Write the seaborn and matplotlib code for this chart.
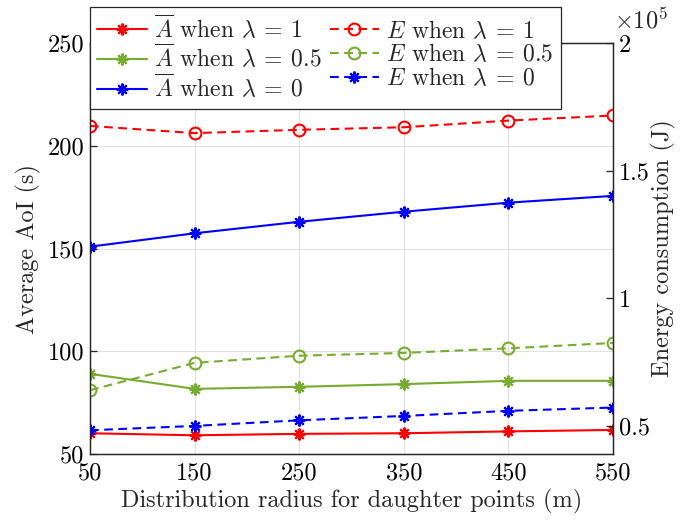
import numpy as np
import pandas as pd
import matplotlib
matplotlib.use("Agg")
import matplotlib.pyplot as plt
import seaborn as sns
from matplotlib.ticker import FuncFormatter, FixedLocator

# ---------------- data ----------------
radius = [50, 150, 250, 350, 450, 550]
aoi_lam1 = [60.1, 59.1, 59.8, 60.1, 61.0, 61.7]
aoi_lam05 = [89.0, 81.7, 82.7, 84.0, 85.6, 85.6]
aoi_lam0 = [150.9, 157.4, 163.0, 167.9, 172.3, 175.6]
energy_lam1 = [1.675e5, 1.647e5, 1.660e5, 1.670e5, 1.696e5, 1.716e5]
energy_lam05 = [0.640e5, 0.747e5, 0.775e5, 0.786e5, 0.804e5, 0.825e5]
energy_lam0 = [0.483e5, 0.500e5, 0.522e5, 0.539e5, 0.559e5, 0.572e5]
x_ticks = [50, 150, 250, 350, 450, 550]
aoi_ticks = [50, 100, 150, 200, 250]
energy_ticks = [0.5e5, 1.0e5, 1.5e5, 2.0e5]

labels_aoi = [r"$\overline{A}$ when $\lambda\:=\:1$",
              r"$\overline{A}$ when $\lambda\:=\:0.5$",
              r"$\overline{A}$ when $\lambda\:=\:0$"]
labels_e = [r"$E$ when $\lambda\:=\:1$",
            r"$E$ when $\lambda\:=\:0.5$",
            r"$E$ when $\lambda\:=\:0$"]

RED = (1.0, 0.0, 0.0)
GREEN = (0.467, 0.675, 0.188)
BLUE = (0.0, 0.0, 1.0)
AX_COLOR = (0.15, 0.15, 0.15)

sns.set_style("white")
plt.rcParams["font.family"] = ["cmr10", "DejaVu Serif"]
plt.rcParams["mathtext.fontset"] = "cm"
plt.rcParams["axes.formatter.use_mathtext"] = True
plt.rcParams["axes.unicode_minus"] = False

FS = 17.5
LFS = 17

fig = plt.figure(figsize=(6.89, 5.21), dpi=100)
ax = fig.add_axes([90 / 689, (521 - 454) / 521, (613 - 90) / 689, (454 - 43) / 521])
ax2 = ax.twinx()

star = (8, 2, 0)
lw = 1.5

def draw(axis, y, color, marker, dashed, label):
    kws = dict(color=color, marker=marker, linewidth=lw,
               markersize=8.5,
               markeredgecolor=color, markeredgewidth=1.5,
               label=label)
    if marker == "o":
        kws["markerfacecolor"] = "none"
    if dashed:
        kws["linestyle"] = (0, (4.2, 2.6))
    sns.lineplot(x=radius, y=y, ax=axis, **kws)

draw(ax, aoi_lam1, RED, star, False, labels_aoi[0])
draw(ax, aoi_lam05, GREEN, star, False, labels_aoi[1])
draw(ax, aoi_lam0, BLUE, star, False, labels_aoi[2])
draw(ax2, energy_lam1, RED, "o", True, labels_e[0])
draw(ax2, energy_lam05, GREEN, "o", True, labels_e[1])
draw(ax2, energy_lam0, BLUE, star, True, labels_e[2])

for a in (ax, ax2):
    if a.get_legend() is not None:
        a.get_legend().remove()

ax.set_xlim(50, 550)
ax.set_ylim(50, 250)
ax2.set_ylim(0.39e5, 2.0e5)

ax.xaxis.set_major_locator(FixedLocator(x_ticks))
ax.yaxis.set_major_locator(FixedLocator(aoi_ticks))
ax2.yaxis.set_major_locator(FixedLocator(energy_ticks))
ax.xaxis.set_major_formatter(FuncFormatter(lambda v, p: f"{v:g}"))
ax.yaxis.set_major_formatter(FuncFormatter(lambda v, p: f"{v:g}"))
ax2.yaxis.set_major_formatter(FuncFormatter(lambda v, p: f"{v / 1e5:g}"))

ax.grid(True, color=(0.88, 0.88, 0.88), linewidth=0.8)
ax.set_axisbelow(True)
ax2.grid(False)

for a in (ax, ax2):
    for s in a.spines.values():
        s.set_color(AX_COLOR)
        s.set_linewidth(0.9)
        s.set_visible(True)
ax.tick_params(axis="both", direction="in", length=5, width=0.9, colors=AX_COLOR,
               labelcolor="black", labelsize=FS, top=False, right=False)
ax2.tick_params(axis="y", direction="in", length=5, width=0.9, colors=AX_COLOR,
                labelcolor="black", labelsize=FS, pad=4)
ax.tick_params(axis="x", pad=6)
ax.tick_params(axis="y", pad=4)

ax.set_xlabel("Distribution radius for daughter points (m)", fontsize=FS, labelpad=3)
ax.set_ylabel("Average AoI (s)", fontsize=FS, labelpad=5)
ax2.set_ylabel("Energy consumption (J)", fontsize=FS, labelpad=1)

fig.text(614 / 689, 1 - 20 / 521, r"$\times10^{5}$", fontsize=FS, ha="left", va="center")

handles = [h for h in ax.get_lines() if h.get_label() in labels_aoi] + \
          [h for h in ax2.get_lines() if h.get_label() in labels_e]
leg = fig.legend(handles, labels_aoi + labels_e, ncol=2, loc="upper left",
                 bbox_to_anchor=(90 / 689, 1 - 7 / 521), bbox_transform=fig.transFigure,
                 borderaxespad=0, fontsize=LFS, frameon=True, fancybox=False,
                 edgecolor=AX_COLOR, framealpha=1, handlelength=2.1, handletextpad=0.3,
                 columnspacing=0.35, labelspacing=0.05, borderpad=0.3)
leg.get_frame().set_linewidth(0.9)

fig.savefig("out.png", dpi=100)
